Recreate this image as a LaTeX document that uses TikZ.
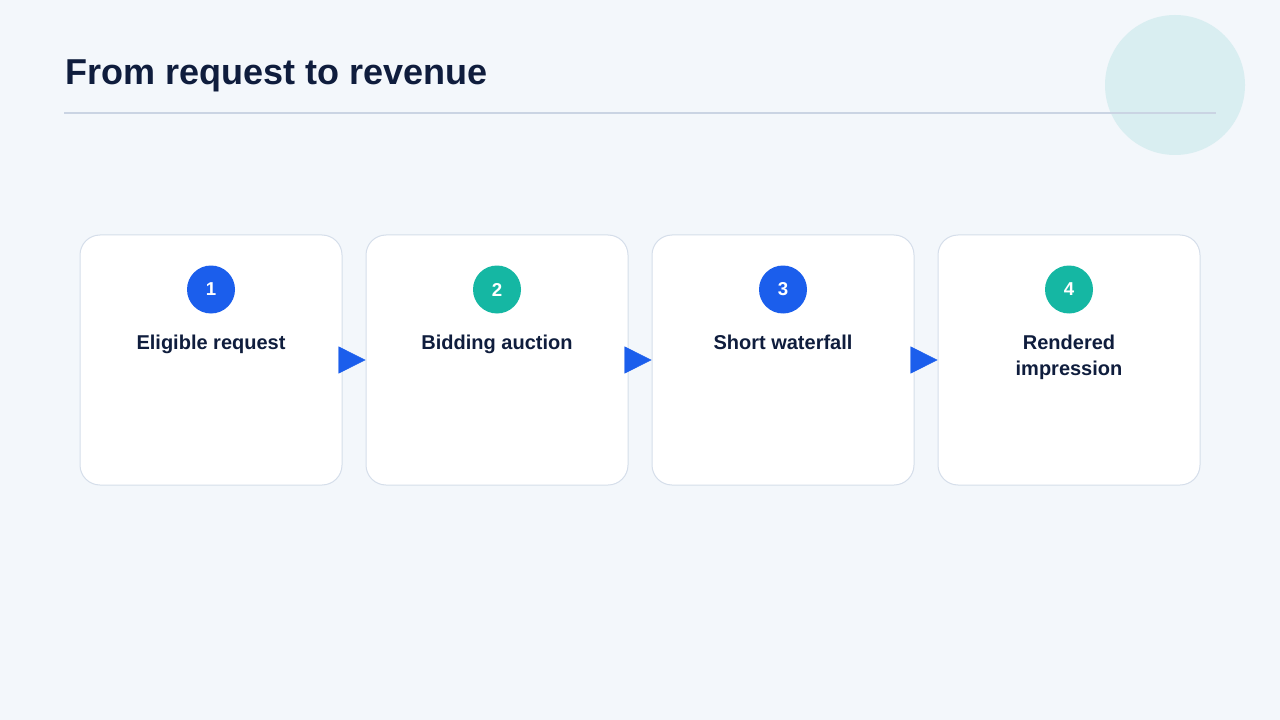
\documentclass[tikz,border=0pt]{standalone}
\usepackage{fontspec}
\setmainfont{Liberation Sans}
\usetikzlibrary{arrows.meta}
\definecolor{pagebg}{HTML}{F3F7FB}
\definecolor{inknavy}{HTML}{0F1D3D}
\definecolor{ruleline}{HTML}{CAD4E3}
\definecolor{decoteal}{HTML}{D9EEF1}
\definecolor{cardline}{HTML}{D5DEEA}
\definecolor{flowblue}{HTML}{1B5EEC}
\definecolor{flowteal}{HTML}{15B7A3}
\tikzstyle{card} = [rectangle, rounded corners=15pt,
minimum width=196.5pt,
minimum height=187.5pt,
draw=cardline, line width=0.75pt,
fill=white]
\tikzstyle{numdot} = [circle,
minimum size=36pt, inner sep=0pt,
text=white,
font=\fontsize{14}{16}\selectfont\bfseries]
\tikzstyle{steplabel} = [align=center,
inner sep=0pt, anchor=north,
text=inknavy,
font=\fontsize{15}{19.5}\selectfont\bfseries]
\tikzstyle{arrow} = [line width=0.2pt, draw=flowblue,
-{Triangle[length=20.25pt, width=20.25pt]}]

\begin{document}
\begin{tikzpicture}[x=0.75pt, y=-0.75pt, node distance=214.5pt]
    \useasboundingbox (0,0) rectangle (1280,720);
    \fill[pagebg] (0,0) rectangle (1280,720);
    \fill[decoteal] (1175,85) circle (70);

    \node (title) [anchor=base west, inner sep=0pt, text=inknavy,
      font=\fontsize{27}{32}\selectfont\bfseries] at (65,85) {From request to revenue};
    \draw [ruleline, line width=1.5pt] (64,113) -- (1216,113);

    \node (card1) [card] at (211,360) {};
    \node (card2) [card, right of=card1] {};
    \node (card3) [card, right of=card2] {};
    \node (card4) [card, right of=card3] {};

    \node (num1) [numdot, fill=flowblue] at ([yshift=-41.25pt]card1.north) {1};
    \node (num2) [numdot, fill=flowteal] at ([yshift=-41.25pt]card2.north) {2};
    \node (num3) [numdot, fill=flowblue] at ([yshift=-41.25pt]card3.north) {3};
    \node (num4) [numdot, fill=flowteal] at ([yshift=-41.25pt]card4.north) {4};

    \node (lab1) [steplabel] at ([yshift=-16pt]num1.south) {Eligible request};
    \node (lab2) [steplabel] at ([yshift=-16pt]num2.south) {Bidding auction};
    \node (lab3) [steplabel] at ([yshift=-16pt]num3.south) {Short waterfall};
    \node (lab4) [steplabel] at ([yshift=-16pt]num4.south) {Rendered\\impression};

    \draw [arrow] ([xshift=-2.25pt]card1.east) -- (card2.west);
    \draw [arrow] ([xshift=-2.25pt]card2.east) -- (card3.west);
    \draw [arrow] ([xshift=-2.25pt]card3.east) -- (card4.west);
\end{tikzpicture}
\end{document}
